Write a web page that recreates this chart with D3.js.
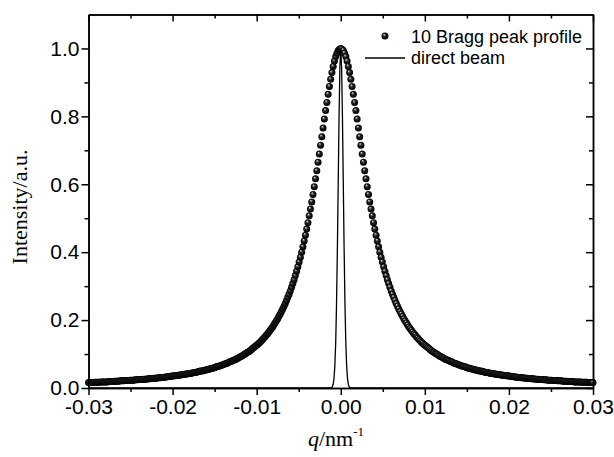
<!DOCTYPE html>
<html>
<head>
<meta charset="utf-8">
<script src="https://cdn.jsdelivr.net/npm/d3@7"></script>
<style>
  body { margin: 0; background: #fff; }
  svg { display: block; }
</style>
</head>
<body>
<svg id="chart" width="614" height="457"></svg>
<script>
// Bragg peak profile, one value per sample from q=-0.03 to q=0.03
var profileStep = 0.00015;
var profileI = [
  .016,.016,.016,.016,.016,.017,.017,.017,.017,.017,
  .018,.018,.018,.018,.018,.018,.019,.019,.019,.019,
  .019,.020,.020,.020,.020,.021,.021,.021,.021,.022,
  .022,.022,.022,.023,.023,.023,.023,.024,.024,.024,
  .025,.025,.025,.025,.026,.026,.026,.027,.027,.027,
  .028,.028,.029,.029,.029,.030,.030,.030,.031,.031,
  .032,.032,.033,.033,.034,.034,.035,.035,.036,.036,
  .037,.037,.038,.038,.039,.040,.040,.041,.041,.042,
  .043,.043,.044,.045,.046,.046,.047,.048,.049,.050,
  .050,.051,.052,.053,.054,.055,.056,.057,.058,.059,
  .060,.062,.063,.064,.065,.066,.068,.069,.071,.072,
  .073,.075,.077,.078,.080,.082,.083,.085,.087,.089,
  .091,.093,.095,.098,.100,.102,.105,.107,.110,.113,
  .116,.119,.122,.125,.128,.132,.135,.139,.143,.147,
  .151,.156,.160,.165,.170,.175,.180,.186,.192,.198,
  .204,.211,.218,.225,.233,.241,.249,.258,.267,.276,
  .286,.297,.308,.319,.331,.344,.357,.371,.385,.400,
  .416,.433,.450,.468,.487,.507,.527,.548,.570,.593,
  .616,.640,.665,.689,.715,.740,.766,.792,.817,.841,
  .865,.888,.909,.929,.947,.963,.976,.986,.994,.998,
  1.000,
  .998,.994,.986,.976,.963,.947,.929,.909,.888,.865,
  .841,.817,.792,.766,.740,.715,.689,.665,.640,.616,
  .593,.570,.548,.527,.507,.487,.468,.450,.433,.416,
  .400,.385,.371,.357,.344,.331,.319,.308,.297,.286,
  .276,.267,.258,.249,.241,.233,.225,.218,.211,.204,
  .198,.192,.186,.180,.175,.170,.165,.160,.156,.151,
  .147,.143,.139,.135,.132,.128,.125,.122,.119,.116,
  .113,.110,.107,.105,.102,.100,.098,.095,.093,.091,
  .089,.087,.085,.083,.082,.080,.078,.077,.075,.073,
  .072,.071,.069,.068,.066,.065,.064,.063,.062,.060,
  .059,.058,.057,.056,.055,.054,.053,.052,.051,.050,
  .050,.049,.048,.047,.046,.046,.045,.044,.043,.043,
  .042,.041,.041,.040,.040,.039,.038,.038,.037,.037,
  .036,.036,.035,.035,.034,.034,.033,.033,.032,.032,
  .031,.031,.030,.030,.030,.029,.029,.029,.028,.028,
  .027,.027,.027,.026,.026,.026,.025,.025,.025,.025,
  .024,.024,.024,.023,.023,.023,.023,.022,.022,.022,
  .022,.021,.021,.021,.021,.020,.020,.020,.020,.019,
  .019,.019,.019,.019,.018,.018,.018,.018,.018,.018,
  .017,.017,.017,.017,.017,.016,.016,.016,.016,.016
];

// direct beam
var beamQ = [-0.03, -0.0012, -0.0011, -0.0010, -0.0009, -0.0008, -0.0007, -0.0006, -0.0005,
  -0.0004, -0.0003, -0.0002, -0.0001, 0, 0.0001, 0.0002, 0.0003, 0.0004, 0.0005, 0.0006,
  0.0007, 0.0008, 0.0009, 0.0010, 0.0011, 0.0012, 0.03];
var beamI = [0, 0, .001, .004, .011, .029, .066, .135, .249,
  .411, .607, .801, .946, 1.000, .946, .801, .607, .411, .249, .135,
  .066, .029, .011, .004, .001, 0, 0];

var xTicks = [-0.03, -0.02, -0.01, 0, 0.01, 0.02, 0.03];
var xMinor = [-0.025, -0.015, -0.005, 0.005, 0.015, 0.025];
var yTicks = [0, 0.2, 0.4, 0.6, 0.8, 1.0];
var yMinor = [0.1, 0.3, 0.5, 0.7, 0.9];
var legendLabels = ['10 Bragg peak profile', 'direct beam'];

//setup ---------------------------------------------------
var svg = d3.select('#chart');
var plotL = 88.5, plotR = 593, plotT = 14.5, plotB = 388;

var x = d3.scaleLinear().domain([-0.03, 0.03]).range([plotL, plotR]);
var y = d3.scaleLinear().domain([0, 1.1]).range([plotB, plotT]);

var profile = profileI.map(function(v, i){
  return {q: -0.03 + i * profileStep, I: v};
});
var beam = beamQ.map(function(q, i){ return {q: q, I: beamI[i]}; });

//sphere look for the markers
var grad = svg.append('defs').append('radialGradient')
  .attr('id', 'ball')
  .attr('cx', '50%').attr('cy', '50%').attr('r', '50%')
  .attr('fx', '36%').attr('fy', '28%');
grad.append('stop').attr('offset', '0%').attr('stop-color', '#e6e6e6');
grad.append('stop').attr('offset', '18%').attr('stop-color', '#8c8c8c');
grad.append('stop').attr('offset', '45%').attr('stop-color', '#202020');
grad.append('stop').attr('offset', '100%').attr('stop-color', '#000');

svg.append('rect').attr('width', 614).attr('height', 457).attr('fill', '#fff');

//marks ---------------------------------------------------
svg.append('g').selectAll('circle')
  .data(profile)
  .enter()
  .append('circle')
    .attr('cx', function(d){ return x(d.q); })
    .attr('cy', function(d){ return y(d.I); })
    .attr('r', 3.5)
    .attr('fill', 'url(#ball)');

var line = d3.line()
  .x(function(d){ return x(d.q); })
  .y(function(d){ return y(d.I); });

svg.append('path')
  .datum(beam)
  .attr('d', line)
  .attr('fill', 'none')
  .attr('stroke', '#000')
  .attr('stroke-width', 1.3);

//axes ----------------------------------------------------
var tickFont = '"Liberation Sans", Arial, sans-serif';

function styleAxis(g){
  g.selectAll('path, line').attr('stroke', '#000').attr('stroke-width', 1.5);
  g.selectAll('text').attr('fill', '#000').attr('font-family', tickFont).attr('font-size', 21);
}

svg.append('g')
  .attr('transform', 'translate(0,' + plotB + ')')
  .call(d3.axisBottom(x).tickValues(xTicks).tickSize(7).tickSizeOuter(0).tickPadding(4)
    .tickFormat(function(d){ return d.toFixed(2); }))
  .call(styleAxis);
svg.append('g')
  .attr('transform', 'translate(0,' + plotB + ')')
  .call(d3.axisBottom(x).tickValues(xMinor).tickSize(4).tickSizeOuter(0).tickFormat(''))
  .call(styleAxis);

svg.append('g')
  .attr('transform', 'translate(' + plotL + ',0)')
  .call(d3.axisLeft(y).tickValues(yTicks).tickSize(7).tickSizeOuter(0).tickPadding(2)
    .tickFormat(function(d){ return d.toFixed(1); }))
  .call(styleAxis);
svg.append('g')
  .attr('transform', 'translate(' + plotL + ',0)')
  .call(d3.axisLeft(y).tickValues(yMinor).tickSize(4).tickSizeOuter(0).tickFormat(''))
  .call(styleAxis);

//mirror axes, ticks inward, no labels
svg.append('g')
  .attr('transform', 'translate(0,' + plotT + ')')
  .call(d3.axisTop(x).tickValues(xTicks).tickSize(-7).tickSizeOuter(0).tickFormat(''))
  .call(styleAxis);
svg.append('g')
  .attr('transform', 'translate(0,' + plotT + ')')
  .call(d3.axisTop(x).tickValues(xMinor).tickSize(-4).tickSizeOuter(0).tickFormat(''))
  .call(styleAxis);
svg.append('g')
  .attr('transform', 'translate(' + plotR + ',0)')
  .call(d3.axisRight(y).tickValues(yTicks).tickSize(-7).tickSizeOuter(0).tickFormat(''))
  .call(styleAxis);
svg.append('g')
  .attr('transform', 'translate(' + plotR + ',0)')
  .call(d3.axisRight(y).tickValues(yMinor).tickSize(-4).tickSizeOuter(0).tickFormat(''))
  .call(styleAxis);

//axis titles
var serif = '"Liberation Serif", "Times New Roman", serif';
var xt = svg.append('text')
  .attr('x', 336).attr('y', 446)
  .attr('text-anchor', 'middle')
  .attr('font-family', serif).attr('font-size', 22).attr('fill', '#000');
xt.append('tspan').attr('font-style', 'italic').text('q');
xt.append('tspan').text('/nm');
xt.append('tspan').attr('font-size', 13).attr('dy', -10).text('-1');

svg.append('text')
  .attr('transform', 'translate(27,207) rotate(-90)')
  .attr('text-anchor', 'middle')
  .attr('font-family', serif).attr('font-size', 22).attr('fill', '#000')
  .text('Intensity/a.u.');

//legend
svg.append('circle').attr('cx', 385).attr('cy', 36).attr('r', 3.5).attr('fill', 'url(#ball)');
svg.append('line').attr('x1', 365).attr('x2', 405).attr('y1', 58).attr('y2', 58)
  .attr('stroke', '#000').attr('stroke-width', 1.3);
svg.selectAll('.leg')
  .data(legendLabels)
  .enter()
  .append('text')
    .attr('class', 'leg')
    .attr('x', 411)
    .attr('y', function(d, i){ return 43 + i * 21; })
    .attr('font-family', tickFont).attr('font-size', 18).attr('fill', '#000')
    .text(function(d){ return d; });
</script>
</body>
</html>
